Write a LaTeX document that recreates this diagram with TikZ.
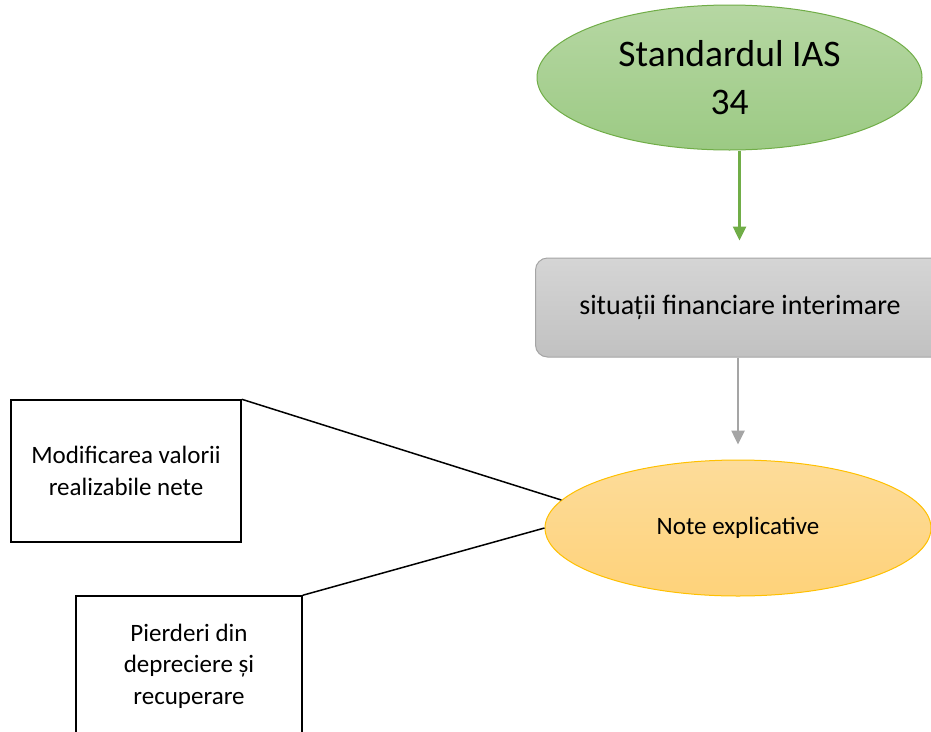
\documentclass[tikz,border=0pt]{standalone}
\usepackage{fontspec}
\setmainfont{Carlito}
\usetikzlibrary{shapes.geometric, arrows.meta}
\definecolor{iasline}{HTML}{70AD47}
\definecolor{iastop}{HTML}{B6D7A3}
\definecolor{iasbot}{HTML}{9CCA84}
\definecolor{sitline}{HTML}{A5A5A5}
\definecolor{sittop}{HTML}{D5D5D5}
\definecolor{sitbot}{HTML}{C1C1C1}
\definecolor{noteline}{HTML}{FFC000}
\definecolor{notetop}{HTML}{FDDC9A}
\definecolor{notebot}{HTML}{FED27A}

\begin{document}
\begin{tikzpicture}[x=1pt, y=-1pt, font=\fontsize{25}{31.5}\selectfont,
    oval/.style={ellipse, line width=1pt, align=center, inner sep=0pt},
    card/.style={draw=black, line width=1.5pt, align=center, inner sep=0pt},
    flow/.style={line width=2.5pt, -{Triangle[length=14pt, width=13pt]}}]
  \clip (0,0) rectangle (931,731);
  \node[oval, draw=iasline, top color=iastop, bottom color=iasbot,
    minimum width=385pt, minimum height=145pt,
    font=\fontsize{37.5}{48}\selectfont] (ias) at (729.5,77.5) {Standardul IAS\\34};
  \node[draw=sitline, line width=1pt, rounded corners=12pt, top color=sittop, bottom color=sitbot,
    minimum width=409pt, minimum height=99pt, inner sep=0pt,
    font=\fontsize{28}{34}\selectfont] (sit) at (740,307.5) {situații financiare interimare};
  \node[oval, draw=noteline, top color=notetop, bottom color=notebot,
    minimum width=386pt, minimum height=136pt] (note) at (738,528) {Note explicative};
  \node[card, minimum width=230pt, minimum height=142pt] (nrv) at (126,471) {Modificarea valorii\\realizabile nete};
  \node[card, minimum width=226pt, minimum height=140pt] (loss) at (189,666) {Pierderi din\\depreciere și\\recuperare};
  \draw[flow, iasline, shorten >=17pt] ([xshift=10pt]ias.south) -- ([xshift=10pt]ias.south |- sit.north);
  \draw[flow, sitline, shorten >=15pt] ([xshift=-2pt]sit.south) -- ([xshift=-2pt]sit.south |- note.north);
  \draw[line width=1.5pt] (nrv.north east) -- (note.171.7);
  \draw[line width=1.5pt] (loss.north east) -- (note.180.6);
\end{tikzpicture}
\end{document}
